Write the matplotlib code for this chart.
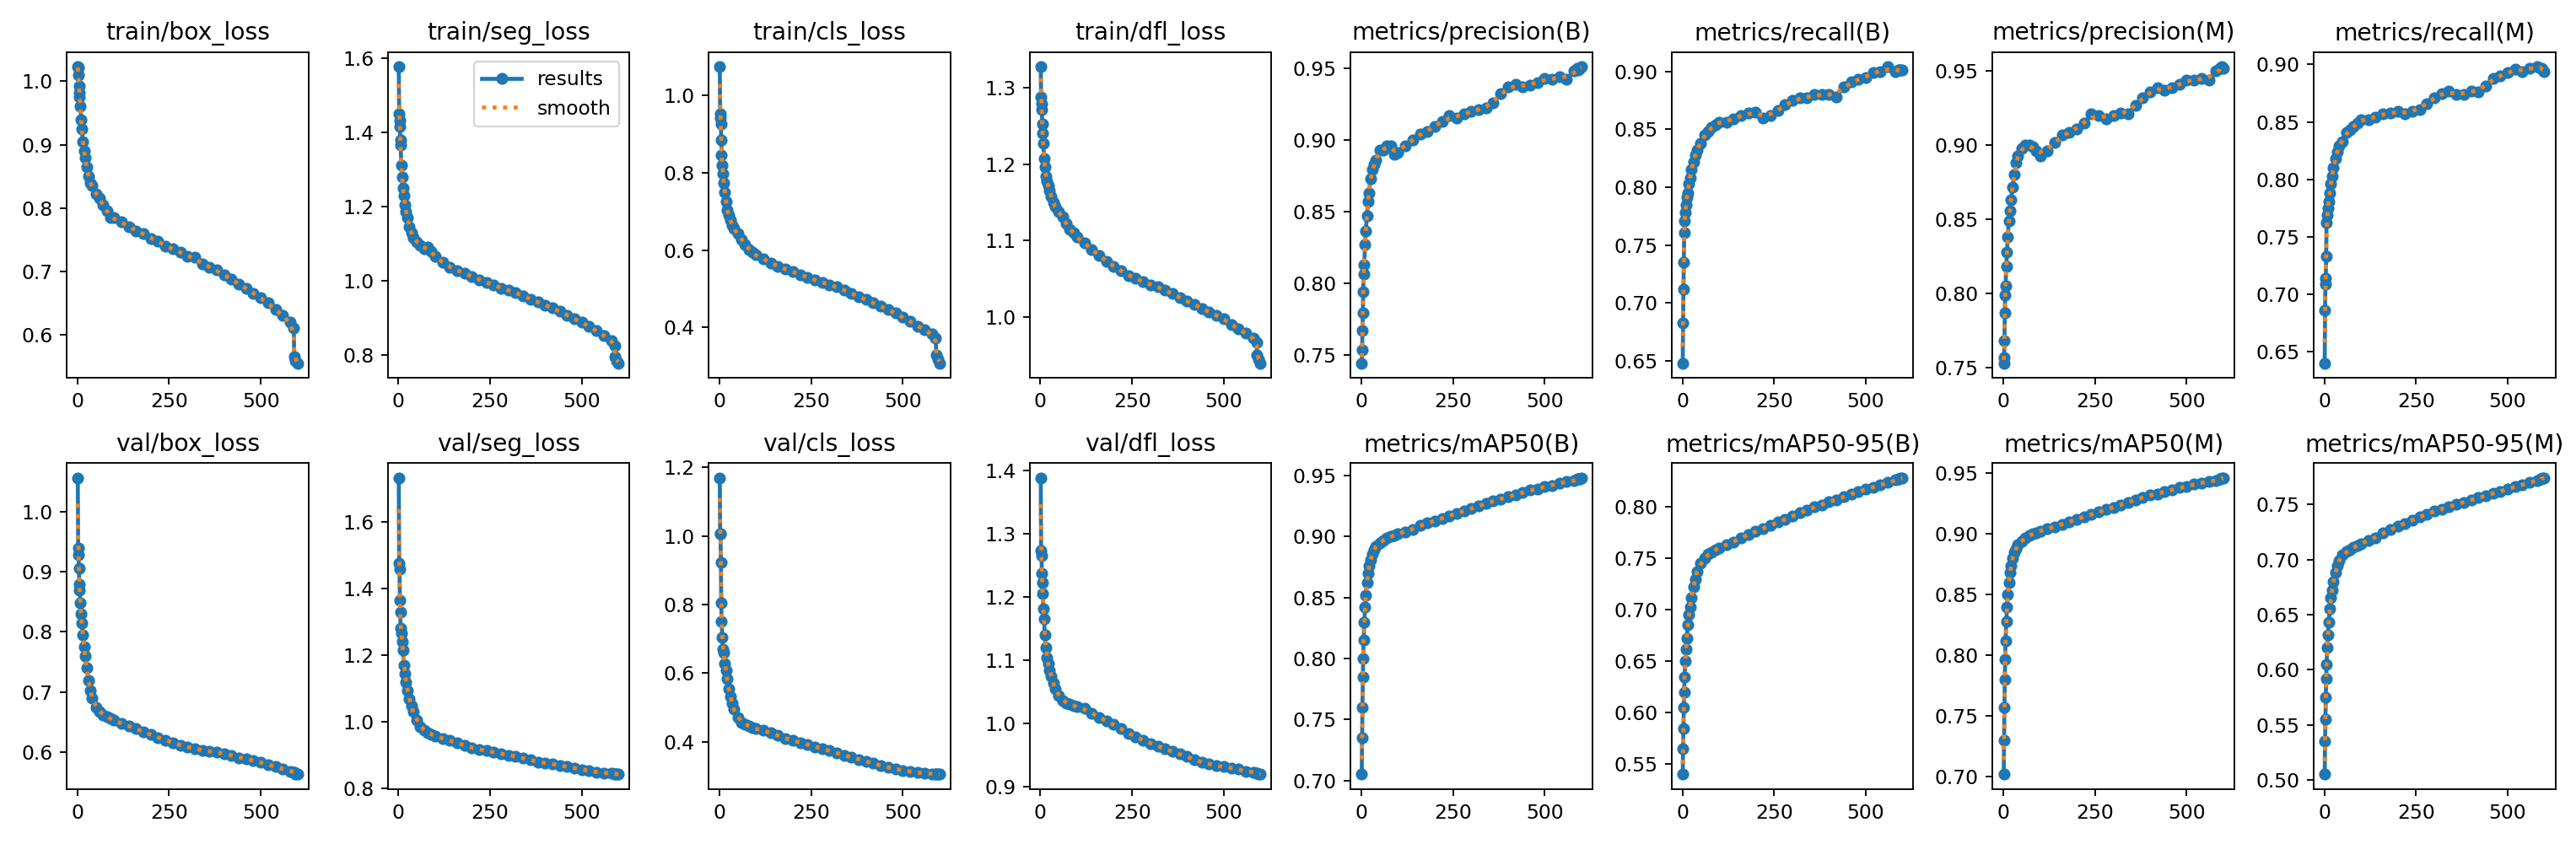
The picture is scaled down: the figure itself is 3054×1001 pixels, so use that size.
import matplotlib
matplotlib.use("Agg")
import matplotlib.pyplot as plt
from matplotlib.ticker import MaxNLocator
import numpy as np

epochs = [1, 2, 3, 4, 5, 6, 8, 10, 12, 15, 18, 21, 25, 30, 35, 40, 50, 60, 70, 80, 90,
          100, 120, 140, 160, 180, 200, 220, 240, 260, 280, 300, 320, 340, 360, 380, 400,
          420, 440, 460, 480, 500, 520, 540, 560, 580, 590, 591, 595, 600]

titles = ["train/box_loss", "train/seg_loss", "train/cls_loss", "train/dfl_loss",
          "metrics/precision(B)", "metrics/recall(B)", "metrics/precision(M)", "metrics/recall(M)",
          "val/box_loss", "val/seg_loss", "val/cls_loss", "val/dfl_loss",
          "metrics/mAP50(B)", "metrics/mAP50-95(B)", "metrics/mAP50(M)", "metrics/mAP50-95(M)"]

train_box = [1.023, 1.022, 1.010, 0.982, 0.992, 0.975, 0.960, 0.940, 0.925, 0.905, 0.890, 0.880, 0.865,
             0.850, 0.840, 0.835, 0.822, 0.815, 0.805, 0.795, 0.785, 0.785, 0.778, 0.770, 0.764, 0.760,
             0.752, 0.748, 0.740, 0.735, 0.730, 0.724, 0.722, 0.712, 0.706, 0.702, 0.694, 0.688, 0.680,
             0.673, 0.665, 0.658, 0.650, 0.640, 0.630, 0.620, 0.610, 0.565, 0.558, 0.555]
train_seg = [1.576, 1.450, 1.430, 1.415, 1.378, 1.365, 1.310, 1.280, 1.250, 1.230, 1.205, 1.185, 1.170,
             1.145, 1.130, 1.115, 1.105, 1.095, 1.085, 1.090, 1.080, 1.065, 1.050, 1.035, 1.028, 1.020,
             1.012, 1.003, 0.995, 0.988, 0.980, 0.974, 0.968, 0.960, 0.950, 0.942, 0.935, 0.926, 0.917,
             0.907, 0.897, 0.888, 0.877, 0.865, 0.853, 0.838, 0.826, 0.795, 0.785, 0.778]
train_cls = [1.074, 0.952, 0.941, 0.927, 0.884, 0.845, 0.820, 0.798, 0.773, 0.750, 0.725, 0.703, 0.690,
             0.677, 0.665, 0.655, 0.643, 0.628, 0.615, 0.602, 0.595, 0.588, 0.578, 0.566, 0.558, 0.551,
             0.544, 0.537, 0.530, 0.522, 0.517, 0.511, 0.505, 0.497, 0.488, 0.479, 0.472, 0.464, 0.455,
             0.446, 0.437, 0.427, 0.416, 0.404, 0.394, 0.383, 0.373, 0.330, 0.318, 0.308]
train_dfl = [1.328, 1.288, 1.279, 1.272, 1.253, 1.241, 1.228, 1.208, 1.196, 1.184, 1.178, 1.172, 1.165,
             1.158, 1.150, 1.144, 1.138, 1.131, 1.122, 1.115, 1.110, 1.105, 1.097, 1.088, 1.080, 1.073,
             1.066, 1.060, 1.054, 1.050, 1.046, 1.042, 1.039, 1.035, 1.030, 1.025, 1.020, 1.016, 1.011,
             1.006, 1.002, 0.997, 0.990, 0.984, 0.978, 0.972, 0.966, 0.950, 0.944, 0.939]
prec_b = [0.744, 0.753, 0.767, 0.779, 0.794, 0.806, 0.813, 0.827, 0.836, 0.847, 0.857, 0.863, 0.873,
          0.879, 0.883, 0.886, 0.893, 0.893, 0.896, 0.896, 0.890, 0.891, 0.896, 0.900, 0.904, 0.906,
          0.909, 0.913, 0.917, 0.915, 0.918, 0.920, 0.921, 0.922, 0.926, 0.932, 0.937, 0.939, 0.937,
          0.938, 0.940, 0.943, 0.942, 0.944, 0.942, 0.948, 0.950, 0.949, 0.950, 0.951]
recall_b = [0.648, 0.683, 0.712, 0.735, 0.761, 0.771, 0.778, 0.785, 0.791, 0.795, 0.803, 0.808, 0.815,
            0.822, 0.828, 0.832, 0.838, 0.845, 0.848, 0.852, 0.854, 0.856, 0.856, 0.859, 0.862, 0.864,
            0.865, 0.860, 0.862, 0.866, 0.871, 0.875, 0.877, 0.877, 0.880, 0.880, 0.880, 0.878, 0.887,
            0.891, 0.893, 0.895, 0.899, 0.900, 0.904, 0.900, 0.901, 0.901, 0.901, 0.901]
prec_m = [0.753, 0.757, 0.768, 0.787, 0.799, 0.805, 0.818, 0.828, 0.838, 0.849, 0.856, 0.863, 0.872,
          0.880, 0.888, 0.893, 0.898, 0.900, 0.900, 0.899, 0.896, 0.893, 0.896, 0.902, 0.907, 0.909,
          0.911, 0.915, 0.921, 0.920, 0.918, 0.920, 0.922, 0.921, 0.927, 0.932, 0.936, 0.939, 0.937,
          0.939, 0.941, 0.944, 0.944, 0.945, 0.944, 0.950, 0.952, 0.952, 0.953, 0.952]
recall_m = [0.640, 0.686, 0.709, 0.714, 0.733, 0.762, 0.769, 0.775, 0.781, 0.788, 0.796, 0.803, 0.810,
            0.818, 0.824, 0.829, 0.833, 0.841, 0.843, 0.846, 0.849, 0.852, 0.852, 0.854, 0.857, 0.858,
            0.859, 0.857, 0.859, 0.861, 0.866, 0.871, 0.875, 0.877, 0.874, 0.874, 0.877, 0.876, 0.881,
            0.888, 0.890, 0.893, 0.896, 0.894, 0.897, 0.898, 0.897, 0.897, 0.896, 0.894]
val_box = [1.056, 0.939, 0.928, 0.906, 0.879, 0.870, 0.849, 0.830, 0.814, 0.795, 0.775, 0.760, 0.740,
           0.720, 0.703, 0.690, 0.675, 0.667, 0.662, 0.659, 0.656, 0.653, 0.648, 0.643, 0.639, 0.634,
           0.629, 0.624, 0.620, 0.616, 0.612, 0.608, 0.606, 0.603, 0.601, 0.600, 0.598, 0.595, 0.591,
           0.589, 0.586, 0.583, 0.579, 0.576, 0.572, 0.568, 0.566, 0.566, 0.564, 0.563]
val_seg = [1.731, 1.475, 1.459, 1.364, 1.328, 1.282, 1.265, 1.241, 1.215, 1.170, 1.145, 1.120, 1.095,
           1.070, 1.050, 1.032, 1.005, 0.985, 0.975, 0.968, 0.963, 0.959, 0.951, 0.944, 0.937, 0.930,
           0.923, 0.918, 0.914, 0.909, 0.905, 0.901, 0.897, 0.892, 0.886, 0.880, 0.877, 0.874, 0.870,
           0.866, 0.862, 0.858, 0.854, 0.850, 0.847, 0.846, 0.845, 0.845, 0.844, 0.843]
val_cls = [1.169, 1.007, 1.007, 0.923, 0.806, 0.751, 0.705, 0.669, 0.660, 0.628, 0.608, 0.585, 0.555,
           0.532, 0.512, 0.495, 0.470, 0.457, 0.450, 0.446, 0.442, 0.439, 0.433, 0.427, 0.418, 0.410,
           0.404, 0.398, 0.392, 0.386, 0.380, 0.374, 0.368, 0.361, 0.355, 0.349, 0.343, 0.337, 0.331,
           0.325, 0.320, 0.317, 0.313, 0.310, 0.308, 0.307, 0.306, 0.306, 0.306, 0.305]
val_dfl = [1.388, 1.274, 1.265, 1.238, 1.223, 1.206, 1.182, 1.166, 1.140, 1.120, 1.105, 1.095, 1.085,
           1.075, 1.064, 1.055, 1.045, 1.037, 1.033, 1.031, 1.029, 1.027, 1.024, 1.017, 1.010, 1.004,
           0.999, 0.992, 0.985, 0.979, 0.974, 0.969, 0.965, 0.960, 0.956, 0.952, 0.948, 0.943, 0.939,
           0.936, 0.934, 0.932, 0.930, 0.928, 0.925, 0.923, 0.922, 0.922, 0.921, 0.920]
map50_b = [0.705, 0.735, 0.760, 0.785, 0.800, 0.815, 0.830, 0.842, 0.852, 0.862, 0.870, 0.876, 0.881,
           0.886, 0.889, 0.892, 0.895, 0.897, 0.899, 0.900, 0.901, 0.902, 0.904, 0.906, 0.909, 0.911,
           0.913, 0.915, 0.917, 0.919, 0.921, 0.923, 0.925, 0.927, 0.929, 0.931, 0.933, 0.934, 0.936,
           0.938, 0.939, 0.941, 0.942, 0.944, 0.945, 0.946, 0.947, 0.947, 0.947, 0.948]
map5095_b = [0.540, 0.565, 0.585, 0.605, 0.620, 0.635, 0.650, 0.662, 0.672, 0.685, 0.695, 0.703, 0.712,
             0.722, 0.730, 0.737, 0.745, 0.750, 0.754, 0.756, 0.758, 0.760, 0.763, 0.766, 0.770, 0.773,
             0.776, 0.779, 0.782, 0.785, 0.788, 0.791, 0.794, 0.797, 0.800, 0.802, 0.805, 0.807, 0.810,
             0.812, 0.815, 0.817, 0.819, 0.821, 0.824, 0.826, 0.827, 0.827, 0.828, 0.828]
map50_m = [0.702, 0.730, 0.757, 0.780, 0.797, 0.812, 0.828, 0.840, 0.850, 0.860, 0.868, 0.874, 0.880,
           0.885, 0.888, 0.891, 0.894, 0.897, 0.899, 0.900, 0.901, 0.902, 0.904, 0.906, 0.908, 0.910,
           0.912, 0.914, 0.916, 0.918, 0.920, 0.922, 0.924, 0.926, 0.928, 0.930, 0.932, 0.933, 0.935,
           0.936, 0.938, 0.939, 0.941, 0.942, 0.943, 0.944, 0.945, 0.945, 0.946, 0.946]
map5095_m = [0.505, 0.535, 0.555, 0.575, 0.592, 0.605, 0.620, 0.632, 0.643, 0.655, 0.665, 0.672, 0.680,
             0.688, 0.694, 0.699, 0.704, 0.707, 0.709, 0.711, 0.713, 0.714, 0.717, 0.720, 0.724, 0.727,
             0.730, 0.733, 0.736, 0.739, 0.741, 0.744, 0.746, 0.748, 0.750, 0.752, 0.754, 0.756, 0.758,
             0.760, 0.762, 0.764, 0.766, 0.768, 0.770, 0.772, 0.773, 0.773, 0.774, 0.774]

series = [train_box, train_seg, train_cls, train_dfl, prec_b, recall_b, prec_m, recall_m,
          val_box, val_seg, val_cls, val_dfl, map50_b, map5095_b, map50_m, map5095_m]


def smooth(y, sigma=1.0):
    # small gaussian smoothing, edges reflected
    r = int(3 * sigma)
    k = np.exp(-0.5 * (np.arange(-r, r + 1) / sigma) ** 2)
    k = k / k.sum()
    yp = np.pad(np.asarray(y, float), r, mode="symmetric")
    return np.convolve(yp, k, mode="valid")


fig, ax = plt.subplots(2, 8, figsize=(18, 5.898), tight_layout=True)
ax = ax.ravel()
x = np.array(epochs)
for i, y in enumerate(series):
    ax[i].plot(x, y, marker=".", label="results", linewidth=2, markersize=10)
    ax[i].plot(x, smooth(y), ":", label="smooth", linewidth=2)
    ax[i].set_title(titles[i], fontsize=12)
    ax[i].xaxis.set_major_locator(MaxNLocator(nbins=3))
ax[1].legend()

fig.savefig("out.png", dpi=169.72)
